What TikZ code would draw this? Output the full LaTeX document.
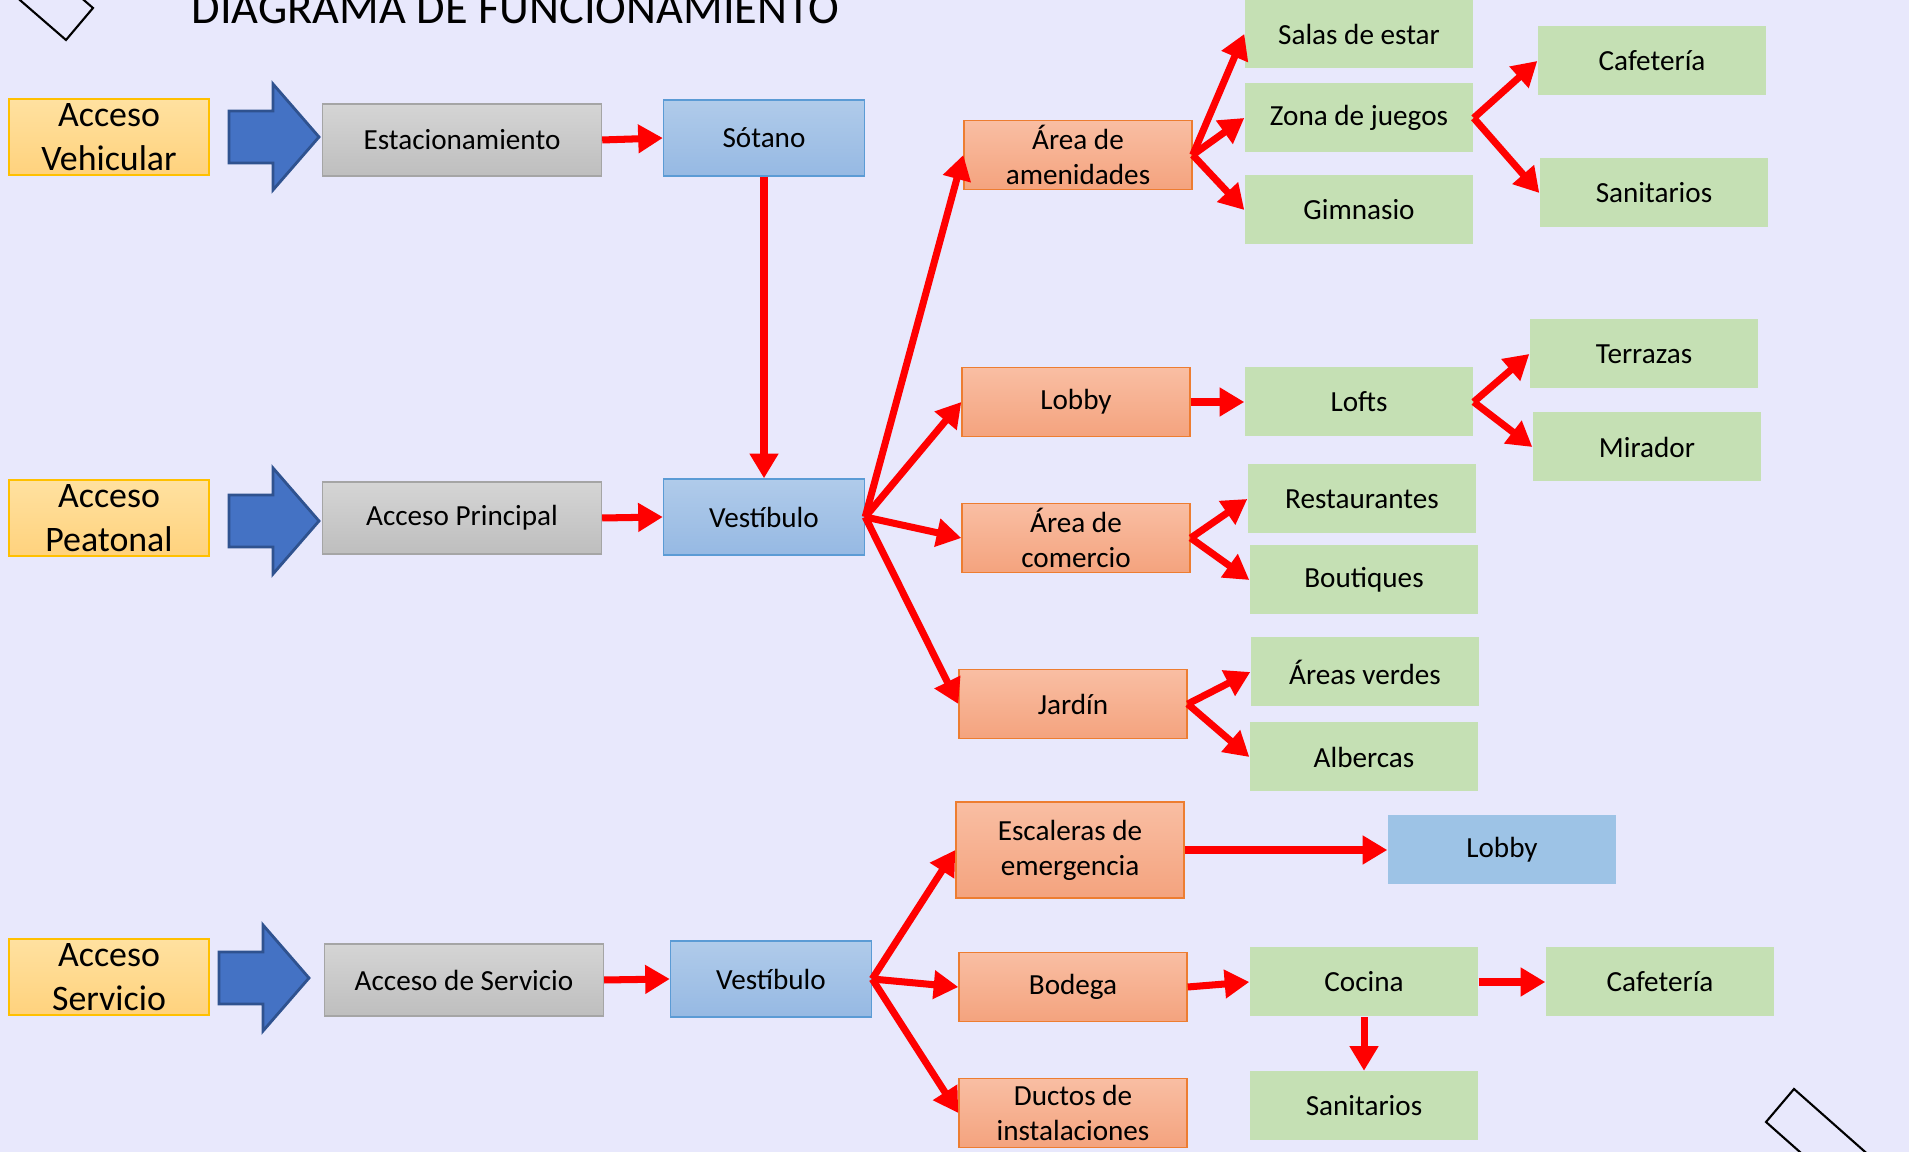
\documentclass[tikz,border=0pt]{standalone}
\usepackage{fontspec}
\setmainfont{Carlito}
\usetikzlibrary{arrows.meta}

\definecolor{fondo}{RGB}{232,232,252}
\definecolor{amarilloA}{RGB}{255,225,160}
\definecolor{amarilloB}{RGB}{255,210,125}
\definecolor{amarilloBorde}{RGB}{255,192,0}
\definecolor{grisA}{RGB}{213,213,213}
\definecolor{grisB}{RGB}{190,190,190}
\definecolor{grisBorde}{RGB}{165,165,165}
\definecolor{azulA}{RGB}{176,203,234}
\definecolor{azulB}{RGB}{150,185,227}
\definecolor{azulBorde}{RGB}{91,155,213}
\definecolor{azulPlano}{RGB}{157,195,230}
\definecolor{naranjaA}{RGB}{249,190,163}
\definecolor{naranjaB}{RGB}{244,163,126}
\definecolor{naranjaBorde}{RGB}{237,125,49}
\definecolor{verde}{RGB}{197,224,180}
\definecolor{flechaAzul}{RGB}{68,114,196}
\definecolor{flechaBorde}{RGB}{47,82,143}
\definecolor{rojo}{RGB}{255,0,0}

\begin{document}
\begin{tikzpicture}[x=0.1mm,y=-0.1mm,
    caja/.style={minimum width=22.8mm,minimum height=6.9mm,align=center,inner sep=1pt,
      font=\fontsize{8.3}{10}\selectfont},
    acceso/.style={caja,draw=amarilloBorde,top color=amarilloA,bottom color=amarilloB,
      minimum width=20mm,minimum height=7.6mm,font=\fontsize{10.2}{12.4}\selectfont},
    gris/.style={caja,draw=grisBorde,top color=grisA,bottom color=grisB,
      minimum width=27.9mm,minimum height=7.2mm},
    azul/.style={caja,draw=azulBorde,top color=azulA,bottom color=azulB,
      minimum width=20.1mm,minimum height=7.6mm},
    naranja/.style={caja,draw=naranjaBorde,top color=naranjaA,bottom color=naranjaB},
    verde/.style={caja,fill=verde},
    flecha/.style={-{Triangle[length=7pt,width=7.8pt]},line width=2pt,rojo},
    pics/entrada/.style={code={
        \draw[fill=flechaAzul,draw=flechaBorde,line width=0.8pt]
          (0,-26) -- (44,-26) -- (44,-53) -- (90,0) -- (44,53) -- (44,26) -- (0,26) -- cycle;}}
  ]
  \useasboundingbox (0,0) rectangle (1909,1152);
  \clip (0,0) rectangle (1909,1152);
  \fill[fondo] (0,0) rectangle (1909,1152);

  % marcos de las esquinas
  \draw[line width=0.6pt] (66,40) -- (93,8) -- (33,-44) -- (6,-12) -- cycle;
  \draw[line width=0.6pt] (1794,1089) -- (1766,1122) -- (1966,1299) -- (1994,1266) -- cycle;

  \node[anchor=base west,inner sep=0pt,font=\fontsize{13.2}{15}\selectfont] (titulo) at (191,24)
    {DIAGRAMA DE FUNCIONAMIENTO};

  % accesos
  \node[acceso] (accV) at (109,137) {Acceso\\Vehicular};
  \node[acceso] (accP) at (109,518) {Acceso\\Peatonal};
  \node[acceso] (accS) at (109,977) {Acceso\\Servicio};
  \pic at (229,137) {entrada};
  \pic at (229,521) {entrada};
  \pic at (219,978) {entrada};

  \node[gris] (estac) at (462,140) {Estacionamiento};
  \node[gris] (accPrin) at (462,518) {Acceso Principal};
  \node[gris] (accServ) at (464,980) {Acceso de Servicio};

  \node[azul] (sotano) at (764,138) {Sótano};
  \node[azul] (vest) at (764,517) {Vestíbulo};
  \node[azul] (vest2) at (771,979) {Vestíbulo};

  \node[naranja] (amen) at (1078,155) {Área de\\amenidades};
  \node[naranja] (lobby) at (1076,402) {Lobby};
  \node[naranja] (comercio) at (1076,538) {Área de\\comercio};
  \node[naranja] (jardin) at (1073,704) {Jardín};
  \node[naranja,minimum height=9.6mm] (escal) at (1070,850) {Escaleras de\\emergencia};
  \node[naranja] (bodega) at (1073,987) {Bodega};
  \node[naranja] (ductos) at (1073,1113) {Ductos de\\instalaciones};

  \node[verde] (salas) at (1359,34) {Salas de estar};
  \node[verde] (zona) at (1359,118) {Zona de juegos};
  \node[verde] (gimnasio) at (1359,210) {Gimnasio};
  \node[verde] (cafe) at (1652,61) {Cafetería};
  \node[verde] (sanit) at (1654,193) {Sanitarios};
  \node[verde] (lofts) at (1359,402) {Lofts};
  \node[verde] (terrazas) at (1644,354) {Terrazas};
  \node[verde] (mirador) at (1647,447) {Mirador};
  \node[verde] (rest) at (1362,499) {Restaurantes};
  \node[verde] (bout) at (1364,580) {Boutiques};
  \node[verde] (verdes) at (1365,672) {Áreas verdes};
  \node[verde] (alberca) at (1364,757) {Albercas};
  \node[caja,fill=azulPlano] (lobby2) at (1502,850) {Lobby};
  \node[verde] (cocina) at (1364,982) {Cocina};
  \node[verde] (cafe2) at (1660,982) {Cafetería};
  \node[verde] (sanit2) at (1364,1106) {Sanitarios};

  \path[flecha]
  (estac.east) edge (sotano.west)
  (sotano.south) edge (vest.north)
  (accPrin.east) edge (vest.west)
  (vest.east)
  edge (amen.west)
  edge (lobby.west)
  edge (comercio.west)
  edge (jardin.west)
  (amen.east)
  edge (salas.west)
  edge (zona.west)
  edge (gimnasio.west)
  (zona.east)
  edge (cafe.west)
  edge (sanit.west)
  (lobby.east) edge (lofts.west)
  (lofts.east)
  edge (terrazas.west)
  edge (mirador.west)
  (comercio.east)
  edge (rest.west)
  edge (bout.west)
  (jardin.east)
  edge (verdes.west)
  edge (alberca.west)
  (accServ.east) edge (vest2.west)
  (vest2.east)
  edge (escal.west)
  edge (bodega.west)
  edge (ductos.west)
  (escal.east) edge (lobby2.west)
  (bodega.east) edge (cocina.west)
  (cocina.east) edge (cafe2.west)
  (cocina.south) edge (sanit2.north)
  ;
\end{tikzpicture}
\end{document}
